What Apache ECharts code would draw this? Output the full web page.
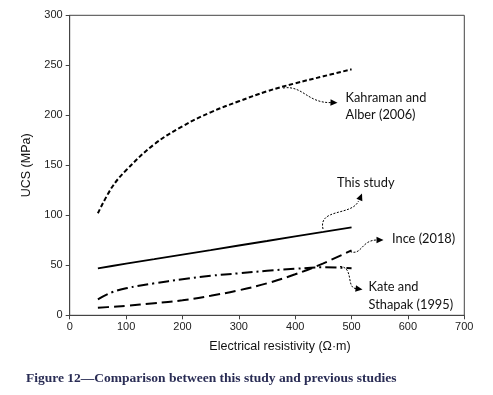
<!DOCTYPE html>
<html>
<head>
<meta charset="utf-8">
<script src="https://cdn.jsdelivr.net/npm/echarts@6/dist/echarts.min.js"></script>
<style>
html,body{margin:0;padding:0;background:#fff;}
#chart{width:493px;height:395px;}
</style>
</head>
<body>
<div id="chart"></div>
<script>
// Data
var xValues = [50, 75, 100, 150, 200, 250, 300, 350, 400, 450, 500];
var kahramanAlber = [102, 128, 145, 171, 189, 203, 214, 224, 232, 239, 246];
var thisStudy = [47, 49.3, 51.6, 56.1, 60.7, 65.2, 69.8, 74.3, 78.9, 83.4, 88];
var ince = [7.5, 8.5, 9.5, 12, 15, 19.5, 25, 32, 41, 52, 65];
var kateSthapak = [16, 23, 27, 32, 36, 39.5, 42, 44.5, 46.5, 48, 47];
var xTicks = [0, 100, 200, 300, 400, 500, 600, 700];
var yTicks = [0, 50, 100, 150, 200, 250, 300];

function pairs(xs, ys) { return xs.map(function (x, i) { return [x, ys[i]]; }); }

var chart = echarts.init(document.getElementById('chart'), null, {renderer: 'canvas'});

function arrowHead(tx, ty, angleDeg) {
  var a = angleDeg * Math.PI / 180, L = 7, W = 3.2;
  var bx = tx - L * Math.cos(a), by = ty - L * Math.sin(a);
  var px = -Math.sin(a), py = Math.cos(a);
  return {
    type: 'polygon', silent: true,
    shape: {points: [[tx, ty], [bx + W * px, by + W * py], [bx - W * px, by - W * py]]},
    style: {fill: '#000'}
  };
}
function curve(x1, y1, c1x, c1y, c2x, c2y, x2, y2) {
  return {
    type: 'bezierCurve', silent: true,
    shape: {x1: x1, y1: y1, cpx1: c1x, cpy1: c1y, cpx2: c2x, cpy2: c2y, x2: x2, y2: y2},
    style: {stroke: '#000', lineWidth: 1, lineDash: [2, 1.5], fill: null}
  };
}
function label(text, x, y) {
  return {
    type: 'text', silent: true, x: x, y: y,
    style: {text: text, fill: '#111', font: '12.8px Lato, "Open Sans", sans-serif', textVerticalAlign: 'middle', textAlign: 'left'}
  };
}

var option = {
  animation: false,
  backgroundColor: '#fff',
  grid: {left: 69.7, right: 28.7, top: 15.3, bottom: 79.7, show: true, borderColor: '#444', borderWidth: 1, containLabel: false},
  xAxis: {
    type: 'value', min: 0, max: 700, interval: 100,
    name: 'Electrical resistivity (\u03A9\u00B7m)', nameLocation: 'middle', nameGap: 25,
    nameTextStyle: {fontFamily: 'Liberation Sans', fontSize: 12.5, color: '#111', padding: [0, 0, 0, 26]},
    axisLine: {show: true, lineStyle: {color: '#444', width: 1}},
    axisTick: {show: true, inside: false, length: 4, lineStyle: {color: '#444'}},
    axisLabel: {fontFamily: 'Liberation Sans', fontSize: 11, color: '#222', margin: 6,
      formatter: function (v) { return xTicks.indexOf(v) >= 0 ? String(v) : ''; }},
    splitLine: {show: false}
  },
  yAxis: {
    type: 'value', min: 0, max: 300, interval: 50,
    name: 'UCS (MPa)', nameLocation: 'middle', nameGap: 29, nameRotate: 90,
    nameTextStyle: {fontFamily: 'Liberation Sans', fontSize: 12.5, color: '#111'},
    axisLine: {show: true, lineStyle: {color: '#444', width: 1}},
    axisTick: {show: true, inside: false, length: 4, lineStyle: {color: '#444'}},
    axisLabel: {fontFamily: 'Liberation Sans', fontSize: 11, color: '#222', margin: 7,
      formatter: function (v) { return yTicks.indexOf(v) >= 0 ? String(v) : ''; }},
    splitLine: {show: false}
  },
  series: [
    {name: 'Kahraman and Alber (2006)', type: 'line', data: pairs(xValues, kahramanAlber), smooth: 0.4, showSymbol: false, symbol: 'none',
      lineStyle: {color: '#000', width: 2, type: [4.5, 2.5]}},
    {name: 'This study', type: 'line', data: pairs(xValues, thisStudy), smooth: false, showSymbol: false, symbol: 'none',
      lineStyle: {color: '#000', width: 1.8, type: 'solid'}},
    {name: 'Ince (2018)', type: 'line', data: pairs(xValues, ince), smooth: 0.4, showSymbol: false, symbol: 'none',
      lineStyle: {color: '#000', width: 2, type: [11, 5]}},
    {name: 'Kate and Sthapak (1995)', type: 'line', data: pairs(xValues, kateSthapak), smooth: 0.4, showSymbol: false, symbol: 'none',
      lineStyle: {color: '#000', width: 2, type: [11, 4, 2, 4]}}
  ],
  graphic: [
    // Kahraman and Alber annotation
    curve(283, 88, 303, 85, 307, 103, 331, 102.6),
    arrowHead(337.5, 102.8, 2),
    label('Kahraman and', 345.5, 97.5),
    label('Alber (2006)', 345.5, 115),
    // This study annotation
    curve(323, 229, 318, 208, 352, 216, 358.5, 201),
    arrowHead(362, 193.5, -68),
    label('This study', 337, 183),
    // Ince annotation
    curve(350, 251.5, 362, 256, 361, 240, 377, 240),
    arrowHead(383.5, 240, 0),
    label('Ince (2018)', 392, 238.5),
    // Kate and Sthapak annotation
    curve(340, 266.5, 354, 267, 346, 288, 356, 288.6),
    arrowHead(362.5, 289.5, 8),
    label('Kate and', 368.5, 287),
    label('Sthapak (1995)', 368.5, 304.5),
    // Caption
    {type: 'text', silent: true, x: 26, y: 378.5,
      style: {text: 'Figure 12\u2014Comparison between this study and previous studies', fill: '#2a2d55',
        font: 'bold 13.5px "Liberation Serif", "DejaVu Serif", serif', textVerticalAlign: 'middle', textAlign: 'left'}}
  ]
};
chart.setOption(option);
</script>
</body>
</html>
